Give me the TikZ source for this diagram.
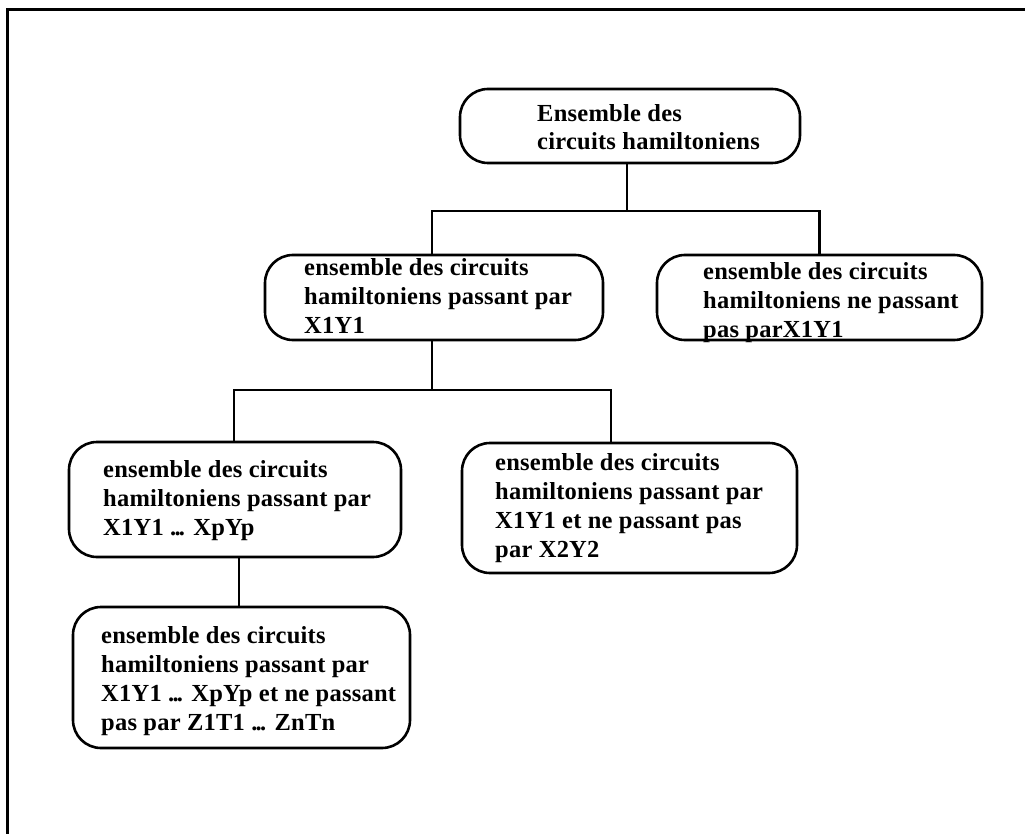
\documentclass[tikz,border=0pt]{standalone}
\usepackage{fontspec}
\setmainfont{Liberation Serif}
\newfontfamily\boitefont{Liberation Serif}[LetterSpace=1]
\usepackage{tikz}

% points de suspension serres
\newcommand{\pts}{.\kern-1.8pt.\kern-1.8pt.}

\tikzset{
  boite/.style={draw, line width=2.6pt, rounded corners=28pt, inner sep=0pt},
  texte/.style={anchor=base west, inner sep=0pt, align=left,
    font=\boitefont\bfseries\fontsize{24.5}{28.8}\selectfont},
  lien/.style={line width=2.6pt}
}

\begin{document}
\begin{tikzpicture}[x=1pt,y=-1pt]
    \useasboundingbox (0,0) rectangle (1025,834);
    % cadre
    \draw[line width=3pt] (7,834) -- (7,10) -- (1025,10);

% les boites
    \node[boite, minimum width=340pt, minimum height=74pt] (racine) at (630,126) {};
    \node[boite, minimum width=338pt, minimum height=85pt] (avec) at (434,297.5) {};
    \node[boite, minimum width=325pt, minimum height=85pt] (sans) at (819.5,297.5) {};
    \node[boite, minimum width=332pt, minimum height=115pt] (avecp) at (235,499.5) {};
    \node[boite, minimum width=335pt, minimum height=130pt] (sansdeux) at (629.5,508) {};
    \node[boite, minimum width=337pt, minimum height=141pt] (avecn) at (241.5,677.5) {};

% les textes (ancre sur la ligne de base de la derniere ligne)
    \node[texte] (racine-t) at (537,150) {Ensemble des\\circuits hamiltoniens};
    \node[texte] (avec-t) at (304,333) {ensemble des circuits\\hamiltoniens passant par\\X1Y1};
    \node[texte] (sans-t) at (703,337) {ensemble des circuits\\hamiltoniens ne passant\\pas parX1Y1};
    \node[texte] (avecp-t) at (103,535) {ensemble des circuits\\hamiltoniens passant par\\X1Y1 \pts{} XpYp};
    \node[texte] (sansdeux-t) at (495,557) {ensemble des circuits\\hamiltoniens passant par\\X1Y1 et ne passant pas\\par X2Y2};
    \node[texte] (avecn-t) at (101,730) {ensemble des circuits\\hamiltoniens passant par\\X1Y1 \pts{} XpYp et ne passant\\pas par Z1T1 \pts{} ZnTn};

% les liens
    \coordinate (j1) at (627,211);
    \coordinate (j2) at (432,390);
    \coordinate (g2) at (234,390);
    \coordinate (d2) at (611,390);
    \coordinate (j3) at (239,0);
    \draw[lien] (racine.south -| j1) -- (j1);
    \draw[lien] (avec.north -| j2) |- (j1) -| (sans.north);
    \draw[lien] (avec.south -| j2) -- (j2);
    \draw[lien] (avecp.north -| g2) |- (d2) -- (sansdeux.north -| d2);
    \draw[lien] (avecp.south -| j3) -- (avecn.north -| j3);
\end{tikzpicture}
\end{document}
